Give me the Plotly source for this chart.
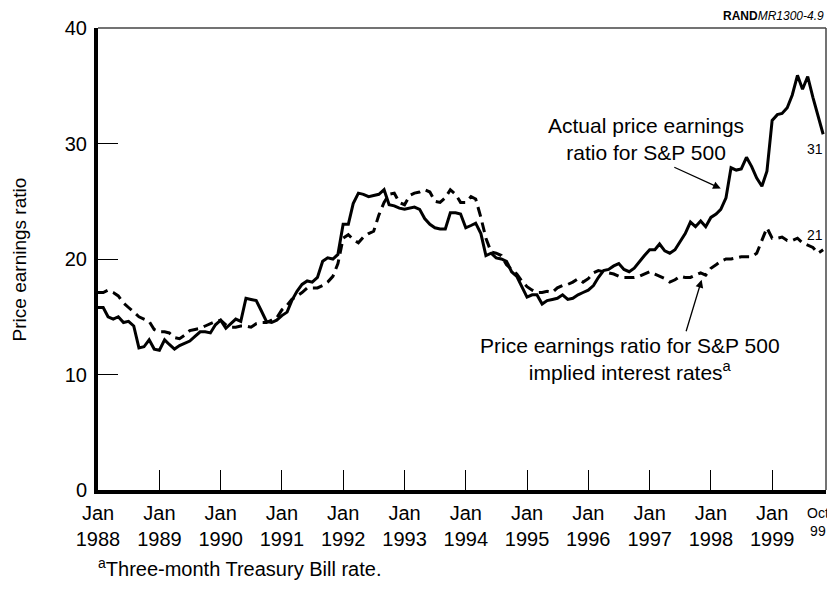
import pandas as pd
import plotly.graph_objects as go

# Monthly values, Jan 1988 .. Nov 1999
actual_pe = [
    15.8, 15.8, 15.0, 14.8, 15.0, 14.5, 14.6, 14.2, 12.3, 12.4, 13.0, 12.2,  # 1988
    12.1, 13.0, 12.6, 12.2, 12.5, 12.7, 12.9, 13.3, 13.7, 13.7, 13.6, 14.3,  # 1989
    14.7, 14.0, 14.4, 14.8, 14.6, 16.6, 16.5, 16.4, 15.5, 14.6, 14.5, 14.7,  # 1990
    15.1, 15.4, 16.4, 17.2, 17.8, 18.1, 18.0, 18.4, 19.8, 20.1, 20.0, 20.4,  # 1991
    23.0, 23.0, 24.8, 25.7, 25.6, 25.4, 25.5, 25.6, 26.0, 24.7, 24.6, 24.4,  # 1992
    24.3, 24.4, 24.5, 24.3, 23.5, 23.0, 22.7, 22.6, 22.6, 24.0, 24.0, 23.9,  # 1993
    22.7, 22.9, 23.1, 22.2, 20.3, 20.5, 20.1, 20.0, 19.8, 18.9, 18.5, 17.6,  # 1994
    16.7, 16.9, 16.9, 16.1, 16.4, 16.5, 16.6, 16.9, 16.5, 16.6, 16.9, 17.1,  # 1995
    17.3, 17.7, 18.4, 19.0, 19.1, 19.4, 19.6, 19.1, 18.9, 19.2, 19.8, 20.3,  # 1996
    20.8, 20.8, 21.3, 20.7, 20.5, 20.8, 21.5, 22.2, 23.2, 22.8, 23.3, 22.8,  # 1997
    23.6, 23.9, 24.3, 25.3, 27.9, 27.7, 27.8, 28.8, 28.0, 27.0, 26.3, 27.6,  # 1998
    32.0, 32.5, 32.6, 33.1, 34.2, 35.9, 34.7, 35.8, 34.0, 32.4, 30.8,        # 1999
]

implied_pe = [
    17.1, 17.1, 17.3, 17.1, 16.8, 16.2, 15.8, 15.4, 15.0, 14.8, 14.6, 13.9,  # 1988
    13.7, 13.7, 13.6, 13.2, 13.1, 13.4, 13.8, 13.9, 14.0, 14.2, 14.4, 14.6,  # 1989
    14.7, 14.3, 14.1, 14.1, 14.2, 14.2, 14.1, 14.4, 14.5, 14.5, 14.7, 14.9,  # 1990
    15.6, 16.0, 16.5, 16.8, 17.1, 17.5, 17.5, 17.5, 17.7, 18.0, 18.5, 19.6,  # 1991
    21.8, 22.1, 21.7, 21.4, 21.9, 22.2, 22.4, 23.8, 24.9, 25.6, 25.7, 24.9,  # 1992
    24.7, 25.5, 25.7, 25.8, 26.0, 25.8, 25.0, 24.9, 25.3, 26.0, 25.6, 24.9,  # 1993
    24.9, 25.4, 25.2, 23.6, 21.8, 20.6, 20.5, 20.3, 19.5, 19.1, 18.7, 18.1,  # 1994
    17.6, 17.3, 17.1, 17.1, 17.2, 17.1, 17.5, 17.7, 17.8, 18.0, 18.3, 18.0,  # 1995
    18.3, 18.8, 19.0, 18.9, 18.8, 18.7, 18.5, 18.4, 18.4, 18.4, 18.5, 18.7,  # 1996
    18.9, 18.7, 18.5, 18.3, 18.0, 18.2, 18.5, 18.4, 18.4, 18.6, 18.8, 18.6,  # 1997
    19.2, 19.5, 19.8, 20.0, 20.0, 20.1, 20.2, 20.2, 20.2, 20.5, 21.6, 22.7,  # 1998
    21.8, 21.8, 21.9, 21.6, 21.6, 21.8, 21.4, 21.2, 21.0, 20.5, 20.8,        # 1999
]

months = pd.date_range("1988-01-01", periods=len(actual_pe), freq="MS")

tick_years = list(range(1988, 2000))
tick_vals = [f"{y}-01-01" for y in tick_years]
tick_text = [f"Jan<br>{y}" for y in tick_years]
y_ticks = [0, 10, 20, 30, 40]

FONT = "Liberation Sans, Arial, Helvetica, sans-serif"

fig = go.Figure()
fig.add_trace(go.Scatter(x=months, y=implied_pe, mode="lines",
                         line=dict(color="black", width=3, dash="10px,6px"),
                         showlegend=False))
fig.add_trace(go.Scatter(x=months, y=actual_pe, mode="lines",
                         line=dict(color="black", width=3),
                         showlegend=False))

fig.update_layout(
    width=827, height=597,
    margin=dict(l=90, r=9, t=20, b=115),
    paper_bgcolor="white", plot_bgcolor="white",
    font=dict(family=FONT, color="black", size=20),
    xaxis=dict(type="date", range=["1988-01-01", "1999-11-18"],
               tickvals=tick_vals, ticktext=tick_text,
               ticks="inside", ticklen=20, tickwidth=1, tickcolor="black",
               showline=True, linewidth=4, linecolor="black",
               showgrid=False, zeroline=False,
               tickfont=dict(size=20), ticklabelstandoff=2),
    yaxis=dict(range=[0, 40], tickvals=y_ticks,
               ticks="inside", ticklen=20, tickwidth=1, tickcolor="black",
               showline=True, linewidth=4, linecolor="black",
               showgrid=False, zeroline=False,
               tickfont=dict(size=20), ticklabelstandoff=3),
    shapes=[
        dict(type="line", xref="paper", yref="paper", x0=0, x1=1, y0=1, y1=1,
             line=dict(color="#444", width=1.5)),
        dict(type="line", xref="paper", yref="paper", x0=1, x1=1, y0=0, y1=1,
             line=dict(color="#444", width=1.5)),
    ],
)

ann = [
    dict(text="Price earnings ratio", xref="paper", yref="paper",
         x=-0.108, y=0.5, textangle=-90, showarrow=False,
         font=dict(size=19), xanchor="center", yanchor="middle"),
    dict(text="Actual price earnings<br>ratio for S&amp;P 500",
         x="1996-12-10", y=30.4, showarrow=False, font=dict(size=21),
         xanchor="center", yanchor="middle"),
    dict(text="Price earnings ratio for S&amp;P 500<br>implied interest rates<sup>a</sup>",
         x="1996-09-06", y=11.3, showarrow=False, font=dict(size=21),
         xanchor="center", yanchor="middle"),
    dict(text="", x="1998-03-01", y=26.1, ax=-48, ay=-22,
         showarrow=True, arrowhead=2, arrowsize=1.2, arrowwidth=1.3,
         arrowcolor="black"),
    dict(text="", x="1997-11-07", y=18.2, ax=-16, ay=53,
         showarrow=True, arrowhead=2, arrowsize=1.2, arrowwidth=1.3,
         arrowcolor="black"),
    dict(text="31", x="1999-09-13", y=29.5, showarrow=False,
         font=dict(size=14), xanchor="center", yanchor="middle"),
    dict(text="21", x="1999-09-13", y=22.1, showarrow=False,
         font=dict(size=14), xanchor="center", yanchor="middle"),
    dict(text="Oct<br>99", x="1999-10-01", xref="x", yref="paper", y=-0.028,
         showarrow=False, font=dict(size=14), xanchor="center", yanchor="top"),
    dict(text="<sup>a</sup>Three-month Treasury Bill rate.", xref="paper", yref="paper",
         x=-0.003, y=-0.1667, showarrow=False, font=dict(size=20),
         xanchor="left", yanchor="middle"),
    dict(text="<b>RAND</b><i>MR1300-4.9</i>", xref="paper", yref="paper",
         x=1, y=1.026, showarrow=False, font=dict(size=12),
         xanchor="right", yanchor="middle"),
]
fig.update_layout(annotations=ann)

fig.write_html("out.html")
